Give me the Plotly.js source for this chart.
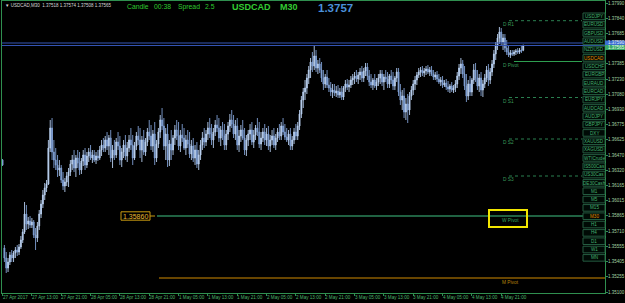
<!DOCTYPE html>
<html>
<head>
<meta charset="utf-8">
<script src="https://cdn.plot.ly/plotly-3.0.1.min.js"></script>
<style>html,body{margin:0;padding:0;background:#000;overflow:hidden}#chart{width:625px;height:303px}</style>
</head>
<body>
<div id="chart"></div>
<script>
// ---- data (USDCAD M30) ----
const openPrices = [
1.3642,1.3554,1.3544,1.3534,1.3540,1.3547,1.3544,1.3549,1.3552,1.3550,
1.3555,1.3562,1.3570,1.3588,1.3578,1.3581,1.3577,1.3580,1.3567,1.3564,
1.3576,1.3588,1.3598,1.3607,1.3614,1.3618,1.3654,1.3674,1.3650,1.3642,
1.3637,1.3632,1.3634,1.3622,1.3616,1.3620,1.3626,1.3630,1.3638,1.3642,
1.3634,1.3644,1.3639,1.3632,1.3641,1.3647,1.3637,1.3646,1.3650,1.3644,
1.3647,1.3642,1.3646,1.3644,1.3652,1.3657,1.3654,1.3662,1.3656,1.3664,
1.3644,1.3652,1.3647,1.3660,1.3656,1.3642,1.3650,1.3657,1.3646,1.3654,
1.3662,1.3657,1.3644,1.3656,1.3666,1.3662,1.3652,1.3662,1.3650,1.3660,
1.3670,1.3666,1.3656,1.3668,1.3644,1.3658,1.3670,1.3682,1.3676,1.3656,
1.3668,1.3642,1.3658,1.3652,1.3664,1.3672,1.3666,1.3656,1.3667,1.3664,
1.3654,1.3662,1.3658,1.3648,1.3656,1.3644,1.3652,1.3638,1.3647,1.3657,
1.3664,1.3660,1.3668,1.3674,1.3668,1.3662,1.3670,1.3677,1.3674,1.3664,
1.3672,1.3666,1.3657,1.3668,1.3676,1.3682,1.3678,1.3668,1.3676,1.3657,
1.3666,1.3672,1.3664,1.3652,1.3662,1.3668,1.3672,1.3660,1.3667,1.3674,
1.3670,1.3658,1.3664,1.3670,1.3662,1.3668,1.3656,1.3662,1.3666,1.3657,
1.3664,1.3670,1.3666,1.3676,1.3670,1.3665,1.3662,1.3668,1.3656,1.3662,
1.3670,1.3666,1.3676,1.3688,1.3702,1.3710,1.3714,1.3724,1.3732,1.3740,
1.3736,1.3746,1.3734,1.3738,1.3732,1.3724,1.3718,1.3725,1.3717,1.3714,
1.3710,1.3712,1.3709,1.3711,1.3707,1.3710,1.3705,1.3714,1.3718,1.3715,
1.3717,1.3722,1.3724,1.3726,1.3723,1.3727,1.3730,1.3724,1.3731,1.3735,
1.3726,1.3720,1.3717,1.3722,1.3716,1.3720,1.3724,1.3728,1.3720,1.3725,
1.3723,1.3718,1.3726,1.3722,1.3716,1.3724,1.3730,1.3710,1.3702,1.3706,
1.3690,1.3698,1.3692,1.3706,1.3712,1.3718,1.3722,1.3727,1.3730,1.3732,
1.3729,1.3731,1.3733,1.3730,1.3732,1.3728,1.3725,1.3727,1.3723,1.3720,
1.3722,1.3717,1.3719,1.3715,1.3713,1.3716,1.3712,1.3714,1.3718,1.3726,
1.3734,1.3738,1.3728,1.3716,1.3706,1.3718,1.3710,1.3722,1.3732,1.3724,
1.3716,1.3724,1.3712,1.3718,1.3724,1.3732,1.3722,1.3730,1.3738,1.3748,
1.3756,1.3764,1.3770,1.3760,1.3764,1.3754,1.3750,1.3747,1.3749,1.3748,
1.3750,1.3751,1.3750,1.3752,1.37518];
const highPrices = [
1.3643,1.3557,1.3550,1.3544,1.3550,1.3552,1.3551,1.3555,1.3557,1.3558,
1.3566,1.3573,1.3600,1.3597,1.3585,1.3586,1.3584,1.3582,1.3574,1.3580,
1.3592,1.3602,1.3612,1.3619,1.3622,1.3662,1.3682,1.3684,1.3662,1.3654,
1.3647,1.3642,1.3637,1.3630,1.3624,1.3630,1.3634,1.3642,1.3647,1.3652,
1.3647,1.3652,1.3650,1.3644,1.3652,1.3654,1.3650,1.3654,1.3657,1.3652,
1.3652,1.3650,1.3652,1.3656,1.3662,1.3664,1.3666,1.3670,1.3667,1.3672,
1.3657,1.3662,1.3664,1.3670,1.3666,1.3654,1.3662,1.3667,1.3660,1.3667,
1.3674,1.3667,1.3660,1.3670,1.3676,1.3674,1.3666,1.3672,1.3664,1.3674,
1.3682,1.3677,1.3672,1.3680,1.3662,1.3674,1.3687,1.3694,1.3684,1.3674,
1.3678,1.3662,1.3672,1.3667,1.3677,1.3682,1.3680,1.3672,1.3678,1.3674,
1.3667,1.3672,1.3670,1.3662,1.3664,1.3657,1.3660,1.3652,1.3662,1.3670,
1.3674,1.3672,1.3680,1.3684,1.3678,1.3674,1.3682,1.3687,1.3684,1.3676,
1.3680,1.3678,1.3672,1.3680,1.3688,1.3692,1.3687,1.3682,1.3684,1.3672,
1.3677,1.3682,1.3674,1.3667,1.3672,1.3678,1.3680,1.3672,1.3677,1.3684,
1.3680,1.3670,1.3674,1.3678,1.3674,1.3676,1.3667,1.3672,1.3674,1.3668,
1.3674,1.3678,1.3680,1.3684,1.3678,1.3674,1.3672,1.3674,1.3666,1.3674,
1.3678,1.3680,1.3692,1.3706,1.3714,1.3722,1.3728,1.3736,1.3744,1.3750,
1.3757,1.3752,1.3742,1.3744,1.3740,1.3732,1.3728,1.3732,1.3724,1.3720,
1.3718,1.3718,1.3716,1.3717,1.3714,1.3716,1.3716,1.3722,1.3723,1.3722,
1.3726,1.3728,1.3730,1.3732,1.3730,1.3734,1.3736,1.3734,1.3739,1.3739,
1.3732,1.3728,1.3724,1.3728,1.3724,1.3728,1.3732,1.3732,1.3728,1.3732,
1.3730,1.3728,1.3732,1.3730,1.3726,1.3734,1.3734,1.3718,1.3712,1.3714,
1.3704,1.3708,1.3710,1.3716,1.3722,1.3726,1.3730,1.3734,1.3735,1.3736,
1.3734,1.3736,1.3737,1.3735,1.3736,1.3732,1.3730,1.3731,1.3728,1.3725,
1.3726,1.3722,1.3723,1.3721,1.3718,1.3720,1.3717,1.3722,1.3730,1.3738,
1.3744,1.3742,1.3736,1.3728,1.3722,1.3726,1.3724,1.3738,1.3739,1.3732,
1.3728,1.3730,1.3722,1.3728,1.3736,1.3738,1.3734,1.3742,1.3752,1.3760,
1.3768,1.3775,1.3774,1.3768,1.3768,1.3762,1.3756,1.3752,1.3752,1.3752,
1.3753,1.3754,1.3754,1.3756,1.37574];
const lowPrices = [
1.3636,1.3540,1.3529,1.3530,1.3537,1.3540,1.3540,1.3544,1.3546,1.3547,
1.3553,1.3559,1.3568,1.3572,1.3573,1.3574,1.3574,1.3564,1.3552,1.3560,
1.3572,1.3584,1.3594,1.3602,1.3610,1.3617,1.3650,1.3642,1.3634,1.3632,
1.3625,1.3626,1.3619,1.3612,1.3610,1.3616,1.3615,1.3626,1.3632,1.3630,
1.3625,1.3634,1.3627,1.3628,1.3636,1.3632,1.3634,1.3640,1.3642,1.3639,
1.3640,1.3638,1.3641,1.3642,1.3646,1.3650,1.3650,1.3652,1.3647,1.3640,
1.3634,1.3642,1.3644,1.3652,1.3637,1.3635,1.3644,1.3642,1.3640,1.3650,
1.3652,1.3637,1.3642,1.3652,1.3657,1.3644,1.3640,1.3647,1.3646,1.3656,
1.3662,1.3652,1.3650,1.3637,1.3640,1.3654,1.3664,1.3672,1.3652,1.3642,
1.3635,1.3636,1.3642,1.3647,1.3657,1.3662,1.3652,1.3650,1.3660,1.3652,
1.3647,1.3654,1.3644,1.3642,1.3640,1.3637,1.3634,1.3632,1.3642,1.3652,
1.3654,1.3656,1.3662,1.3664,1.3657,1.3654,1.3666,1.3670,1.3660,1.3656,
1.3662,1.3652,1.3652,1.3662,1.3670,1.3674,1.3664,1.3662,1.3652,1.3650,
1.3660,1.3662,1.3647,1.3646,1.3656,1.3662,1.3657,1.3654,1.3662,1.3666,
1.3654,1.3652,1.3660,1.3657,1.3656,1.3652,1.3650,1.3657,1.3654,1.3652,
1.3660,1.3662,1.3662,1.3667,1.3662,1.3660,1.3657,1.3652,1.3652,1.3658,
1.3662,1.3662,1.3672,1.3684,1.3694,1.3702,1.3708,1.3718,1.3724,1.3730,
1.3732,1.3730,1.3728,1.3729,1.3720,1.3712,1.3714,1.3714,1.3710,1.3706,
1.3704,1.3706,1.3705,1.3704,1.3704,1.3702,1.3702,1.3710,1.3712,1.3710,
1.3714,1.3717,1.3718,1.3720,1.3718,1.3722,1.3720,1.3720,1.3726,1.3722,
1.3716,1.3714,1.3712,1.3714,1.3712,1.3716,1.3718,1.3716,1.3712,1.3720,
1.3714,1.3714,1.3718,1.3712,1.3712,1.3720,1.3706,1.3697,1.3692,1.3684,
1.3682,1.3679,1.3687,1.3702,1.3707,1.3712,1.3717,1.3724,1.3725,1.3726,
1.3725,1.3727,1.3728,1.3726,1.3726,1.3722,1.3722,1.3720,1.3718,1.3716,
1.3714,1.3715,1.3712,1.3710,1.3709,1.3710,1.3709,1.3710,1.3714,1.3722,
1.3728,1.3724,1.3712,1.3700,1.3702,1.3706,1.3706,1.3718,1.3720,1.3712,
1.3710,1.3706,1.3705,1.3714,1.3720,1.3716,1.3718,1.3726,1.3734,1.3742,
1.3752,1.3758,1.3756,1.3752,1.3750,1.3747,1.3745,1.3744,1.3746,1.3746,
1.3747,1.3748,1.3748,1.3749,1.37508];
const closePrices = [
1.3637,1.3544,1.3534,1.3540,1.3547,1.3544,1.3549,1.3552,1.3550,1.3555,
1.3562,1.3570,1.3588,1.3578,1.3581,1.3577,1.3580,1.3567,1.3564,1.3576,
1.3588,1.3598,1.3607,1.3614,1.3618,1.3654,1.3674,1.3650,1.3642,1.3637,
1.3632,1.3634,1.3622,1.3616,1.3620,1.3626,1.3630,1.3638,1.3642,1.3634,
1.3644,1.3639,1.3632,1.3641,1.3647,1.3637,1.3646,1.3650,1.3644,1.3647,
1.3642,1.3646,1.3644,1.3652,1.3657,1.3654,1.3662,1.3656,1.3664,1.3644,
1.3652,1.3647,1.3660,1.3656,1.3642,1.3650,1.3657,1.3646,1.3654,1.3662,
1.3657,1.3644,1.3656,1.3666,1.3662,1.3652,1.3662,1.3650,1.3660,1.3670,
1.3666,1.3656,1.3668,1.3644,1.3658,1.3670,1.3682,1.3676,1.3656,1.3668,
1.3642,1.3658,1.3652,1.3664,1.3672,1.3666,1.3656,1.3667,1.3664,1.3654,
1.3662,1.3658,1.3648,1.3656,1.3644,1.3652,1.3638,1.3647,1.3657,1.3664,
1.3660,1.3668,1.3674,1.3668,1.3662,1.3670,1.3677,1.3674,1.3664,1.3672,
1.3666,1.3657,1.3668,1.3676,1.3682,1.3678,1.3668,1.3676,1.3657,1.3666,
1.3672,1.3664,1.3652,1.3662,1.3668,1.3672,1.3660,1.3667,1.3674,1.3670,
1.3658,1.3664,1.3670,1.3662,1.3668,1.3656,1.3662,1.3666,1.3657,1.3664,
1.3670,1.3666,1.3676,1.3670,1.3665,1.3662,1.3668,1.3656,1.3662,1.3670,
1.3666,1.3676,1.3688,1.3702,1.3710,1.3714,1.3724,1.3732,1.3740,1.3736,
1.3746,1.3734,1.3738,1.3732,1.3724,1.3718,1.3725,1.3717,1.3714,1.3710,
1.3712,1.3709,1.3711,1.3707,1.3710,1.3705,1.3714,1.3718,1.3715,1.3717,
1.3722,1.3724,1.3726,1.3723,1.3727,1.3730,1.3724,1.3731,1.3735,1.3726,
1.3720,1.3717,1.3722,1.3716,1.3720,1.3724,1.3728,1.3720,1.3725,1.3723,
1.3718,1.3726,1.3722,1.3716,1.3724,1.3730,1.3710,1.3702,1.3706,1.3690,
1.3698,1.3692,1.3706,1.3712,1.3718,1.3722,1.3727,1.3730,1.3732,1.3729,
1.3731,1.3733,1.3730,1.3732,1.3728,1.3725,1.3727,1.3723,1.3720,1.3722,
1.3717,1.3719,1.3715,1.3713,1.3716,1.3712,1.3714,1.3718,1.3726,1.3734,
1.3738,1.3728,1.3716,1.3706,1.3718,1.3710,1.3722,1.3732,1.3724,1.3716,
1.3724,1.3712,1.3718,1.3724,1.3732,1.3722,1.3730,1.3738,1.3748,1.3756,
1.3764,1.3770,1.3760,1.3764,1.3754,1.3750,1.3747,1.3749,1.3748,1.3750,
1.3751,1.3750,1.3752,1.3751,1.37565];

const xTickBars = [0,16,32,48,64,80,96,112,128,144,160,176,192,208,224,240,256,272];
const xTickLabels = ['27 Apr 2017','27 Apr 13:00','27 Apr 21:00','28 Apr 05:00','28 Apr 13:00','28 Apr 21:00',
  '1 May 05:00','1 May 13:00','1 May 21:00','2 May 05:00','2 May 13:00','2 May 21:00',
  '3 May 05:00','3 May 13:00','3 May 21:00','4 May 05:00','4 May 13:00','4 May 21:00'];
const yTickValues = [1.37990,1.37840,1.37685,1.37535,1.37385,1.37230,1.37080,1.36930,1.36775,1.36625,
  1.36470,1.36320,1.36165,1.36015,1.35865,1.35710,1.35555,1.35405,1.35255,1.35100];
const yTickLabels = ['1.37990','1.37840','1.37685','1.37535','1.37385','1.37230','1.37080','1.36930','1.36775','1.36625',
  '1.36470','1.36320','1.36165','1.36015','1.35865','1.35710','1.35555','1.35405','1.35255','1.35100'];

const dailyLevelNames = ['D R1','D Pivot','D S1','D S2','D S3'];
const dailyLevelValues = [1.37813, 1.37405, 1.37045, 1.36630, 1.36260];
const weeklyPivot = 1.35860;
const monthlyPivot = 1.35240;
const askPrice = 1.37590;
const bidPrice = 1.37565;
const symbolButtons = ['USDJPY','EURUSD','GBPUSD','AUDUSD','NZDUSD','USDCAD','USDCHF','EURGBP','EURAUD','EURCAD',
  'EURJPY','AUDCAD','AUDJPY','GBPJPY','DXY','XAUUSD','XAGUSD','WTICrude','IS500Cas','US30Cas','DE30Cash',
  'M1','M5','M15','M30','H1','H4','D1','W1','MN'];
const activeButtons = ['USDCAD','M30'];

// ---- layout helpers (pixel -> paper) ----
const L = 2, T = 1, W = 603, H = 292;
const px = v => (v - L) / W;
const py = v => 1 - (v - T) / H;
const FONT = 'Liberation Sans, Arial, sans-serif';
const GREEN_AX = '#2f8f4f';

const bars = openPrices.map((_, i) => i);

const trace = {
  type: 'candlestick', x: bars,
  open: openPrices, high: highPrices, low: lowPrices, close: closePrices,
  increasing: {line: {color: '#b8cff0', width: 0.9}, fillcolor: '#d4e4f8'},
  decreasing: {line: {color: '#7f9fd4', width: 0.9}, fillcolor: '#90b0e2'},
  whiskerwidth: 0, hoverinfo: 'none', showlegend: false
};

const shapes = [];
const annotations = [];

// bid / ask lines
[askPrice, bidPrice].forEach(v => shapes.push({type:'line', xref:'paper', yref:'y', x0:0, x1:1, y0:v, y1:v,
  line:{color:'#3454b4', width:1}}));

// daily levels
dailyLevelNames.forEach((n, i) => {
  const v = dailyLevelValues[i];
  const solid = n === 'D Pivot';
  shapes.push({type:'line', xref:'paper', yref:'y', x0:px(solid ? 514 : 509), x1:px(582), y0:v, y1:v,
    line:{color: solid ? '#2e9e50' : '#2a8050', width:1, dash: solid ? 'solid' : 'dot'}});
  annotations.push({xref:'paper', yref:'y', x:px(501), y:v, yshift:-3.5, text:n, showarrow:false,
    xanchor:'left', yanchor:'middle', font:{family:FONT, size:4.8, color:'#3a9a5a'}});
});

// weekly pivot
shapes.push({type:'line', xref:'paper', yref:'y', x0:px(157), x1:1, y0:weeklyPivot, y1:weeklyPivot,
  line:{color:'#40c484', width:1}});
shapes.push({type:'line', xref:'paper', yref:'y', x0:px(150), x1:px(155), y0:weeklyPivot, y1:weeklyPivot,
  line:{color:'#c89a10', width:1}});
shapes.push({type:'rect', xref:'paper', yref:'y', x0:px(121), x1:px(150), y0:weeklyPivot-0.00042, y1:weeklyPivot+0.00042,
  line:{color:'#c89a10', width:1}, fillcolor:'#000'});
annotations.push({xref:'paper', yref:'y', x:px(135.5), y:weeklyPivot, text:'1.35860', showarrow:false,
  xanchor:'center', yanchor:'middle', font:{family:FONT, size:7, color:'#e8b830'}});
annotations.push({xref:'paper', yref:'y', x:px(500), y:weeklyPivot, yshift:-4, text:'W Pivot', showarrow:false,
  xanchor:'left', yanchor:'middle', font:{family:FONT, size:4.8, color:'#36a060'}});
shapes.push({type:'rect', xref:'paper', yref:'paper', x0:px(489), x1:px(527), y0:py(227), y1:py(210),
  line:{color:'#f2e600', width:2}, fillcolor:'rgba(0,0,0,0)'});

// monthly pivot
shapes.push({type:'line', xref:'paper', yref:'y', x0:px(159), x1:1, y0:monthlyPivot, y1:monthlyPivot,
  line:{color:'#d08a00', width:1}});
annotations.push({xref:'paper', yref:'y', x:px(500), y:monthlyPivot, yshift:-4, text:'M Pivot', showarrow:false,
  xanchor:'left', yanchor:'middle', font:{family:FONT, size:4.8, color:'#b8860b'}});

// symbol / timeframe buttons
symbolButtons.forEach((s, k) => {
  const top = 13 + k * 8.33;
  const active = activeButtons.includes(s);
  shapes.push({type:'rect', xref:'paper', yref:'paper', x0:px(583), x1:px(605), y0:py(top+6.6), y1:py(top),
    line:{color:'#245c40', width:1}, fillcolor:'#000a05'});
  annotations.push({xref:'paper', yref:'paper', x:px(594), y:py(top+3.4), text:s, showarrow:false,
    xanchor:'center', yanchor:'middle', borderpad:0, font:{family:FONT, size:4.6, color: active ? '#e08a00' : '#44b070'}});
});

// y axis labels (right side, left-aligned next to the ticks)
yTickValues.forEach((v, i) => {
  if (Math.abs(v - bidPrice) < 0.0005) return; // hidden behind price label
  annotations.push({xref:'paper', yref:'y', x:1 + 2/W, y:v, text:yTickLabels[i], showarrow:false,
    xanchor:'left', yanchor:'middle', borderpad:0, font:{family:FONT, size:4.5, color:'#a4d4a4'}});
});
// x axis labels (left-aligned at the ticks)
xTickBars.forEach((b, i) => {
  annotations.push({xref:'x', yref:'paper', x:b, y:py(297.5), text:xTickLabels[i], showarrow:false,
    xanchor:'left', yanchor:'middle', xshift:-1, borderpad:0, font:{family:FONT, size:4.6, color:'#4cb36a'}});
});

// price labels on the right axis
shapes.push({type:'rect', xref:'paper', yref:'paper', x0:1, x1:1+20/W, y0:py(45), y1:py(40.5),
  line:{width:0}, fillcolor:'#3c6fd0'});
shapes.push({type:'rect', xref:'paper', yref:'paper', x0:1, x1:1+20/W, y0:py(50), y1:py(45),
  line:{width:0}, fillcolor:'#38a868'});
annotations.push({xref:'paper', yref:'paper', x:1+1.5/W, y:py(42.8), text:'1.37590', showarrow:false,
  xanchor:'left', yanchor:'middle', borderpad:0, font:{family:FONT, size:4.5, color:'#e8f0ff'}});
annotations.push({xref:'paper', yref:'paper', x:1+1.5/W, y:py(47.6), text:'1.37565', showarrow:false,
  xanchor:'left', yanchor:'middle', borderpad:0, font:{family:FONT, size:4.5, color:'#e8ffe8'}});

// header texts
annotations.push({xref:'paper', yref:'paper', x:px(3), y:py(5), text:'▼ USDCAD,M30  1.37518 1.37574 1.37508 1.37565',
  showarrow:false, xanchor:'left', yanchor:'middle', font:{family:FONT, size:4.5, color:'#d8d8d8'}});
[['Candle',125],['00:38',151.5],['Spread',176],['2.5',203]].forEach(([t,x]) =>
  annotations.push({xref:'paper', yref:'paper', x:px(x), y:py(6.5), text:t, showarrow:false,
    xanchor:'left', yanchor:'middle', font:{family:FONT, size:6.8, color:'#2fc82f'}}));
[['USDCAD',230],['M30',278]].forEach(([t,x]) =>
  annotations.push({xref:'paper', yref:'paper', x:px(x), y:py(7), text:'<b>'+t+'</b>', showarrow:false,
    xanchor:'left', yanchor:'middle', font:{family:FONT, size:9, color:'#33cc33'}}));
annotations.push({xref:'paper', yref:'paper', x:px(316), y:py(7.5), text:'<b>1.3757</b>', showarrow:false,
  xanchor:'left', yanchor:'middle', font:{family:FONT, size:11.5, color:'#4a90d9'}});

const layout = {
  width: 625, height: 303,
  margin: {l: L, r: 20, t: T, b: 10, pad: 0},
  paper_bgcolor: '#000', plot_bgcolor: '#000',
  showlegend: false,
  xaxis: {
    range: [-0.3, 328.6], showgrid: false, zeroline: false,
    showline: true, mirror: true, linecolor: GREEN_AX, linewidth: 1,
    rangeslider: {visible: false}, fixedrange: true,
    tickmode: 'array', tickvals: xTickBars, showticklabels: false,
    ticks: 'outside', ticklen: 2, tickcolor: GREEN_AX, tickwidth: 1
  },
  yaxis: {
    side: 'right', range: [1.35090, 1.38010], showgrid: false, zeroline: false,
    showline: true, mirror: true, linecolor: GREEN_AX, linewidth: 1, fixedrange: true,
    tickmode: 'array', tickvals: yTickValues, showticklabels: false,
    ticks: 'outside', ticklen: 2, tickcolor: GREEN_AX, tickwidth: 1
  },
  shapes: shapes,
  annotations: annotations
};

Plotly.newPlot('chart', [trace], layout, {staticPlot: true, displayModeBar: false});
</script>
</body>
</html>
